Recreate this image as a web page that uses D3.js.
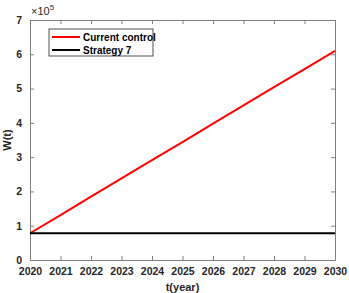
<!DOCTYPE html>
<html>
<head>
<meta charset="utf-8">
<script src="https://cdn.jsdelivr.net/npm/d3@7"></script>
<style>
  body { margin: 0; background: #fff; }
  text { font-family: "Liberation Sans", Arial, sans-serif; font-weight: bold; }
</style>
</head>
<body>
<svg id="chart" width="349" height="293"></svg>
<script>
// Data (W(t) in units of 1e5)
const years = [2020, 2021, 2022, 2023, 2024, 2025, 2026, 2027, 2028, 2029, 2030];
const currentControl = [0.78, 1.31, 1.85, 2.38, 2.91, 3.44, 3.98, 4.51, 5.04, 5.57, 6.1];
const strategy7 = [0.78, 0.78, 0.78, 0.78, 0.78, 0.78, 0.78, 0.78, 0.78, 0.78, 0.78];
const yTicks = [0, 1, 2, 3, 4, 5, 6, 7];
const seriesNames = ["Current control", "Strategy 7"];
const seriesColors = ["#ff0000", "#000000"];

const svg = d3.select("#chart");
const margin = { top: 20, right: 14, bottom: 33, left: 30 };
const width = 349 - margin.left - margin.right;
const height = 293 - margin.top - margin.bottom;

const g = svg.append("g")
    .attr("transform", `translate(${margin.left},${margin.top})`);

// Scales
const x = d3.scaleLinear().domain([2020, 2030]).range([0, width]);
const y = d3.scaleLinear().domain([0, 7]).range([height, 0]);

const axisColor = "#7f7f7f";

// Bottom axis with labels, ticks inward
const xAxis = g.append("g")
    .attr("transform", `translate(0,${height})`)
    .call(d3.axisBottom(x).tickValues(years).tickFormat(d3.format("d")).tickSizeInner(-4).tickSizeOuter(0).tickPadding(8));
// Left axis
const yAxis = g.append("g")
    .call(d3.axisLeft(y).tickValues(yTicks).tickFormat(d3.format("d")).tickSizeInner(-4).tickSizeOuter(0).tickPadding(8));
// Top and right axes (ticks only)
const xTop = g.append("g")
    .call(d3.axisTop(x).tickValues(years).tickSizeInner(-4).tickSizeOuter(0).tickFormat(""));
const yRight = g.append("g")
    .attr("transform", `translate(${width},0)`)
    .call(d3.axisRight(y).tickValues(yTicks).tickSizeInner(-4).tickSizeOuter(0).tickFormat(""));

[xAxis, yAxis, xTop, yRight].forEach(a => {
    a.selectAll("path, line").attr("stroke", axisColor);
    a.selectAll("text").attr("fill", "#262626").style("font-size", "10.5px");
});

// Lines
const line = d3.line()
    .x((d, i) => x(years[i]))
    .y(d => y(d));

[currentControl, strategy7].forEach((s, i) => {
    g.append("path")
        .datum(s)
        .attr("fill", "none")
        .attr("stroke", seriesColors[i])
        .attr("stroke-width", 2)
        .attr("d", line);
});

// Exponent label
const expLabel = g.append("text")
    .attr("x", 1)
    .attr("y", -5)
    .attr("fill", "#262626")
    .style("font-size", "11px")
    .style("font-weight", "normal");
expLabel.append("tspan").text("\u00d710");
expLabel.append("tspan").attr("dy", -5).style("font-size", "8px").text("5");

// Axis titles
g.append("text")
    .attr("x", width / 2)
    .attr("y", height + 31)
    .attr("text-anchor", "middle")
    .attr("fill", "#262626")
    .style("font-size", "11px")
    .text("t(year)");

g.append("text")
    .attr("transform", `translate(-19,${height / 2}) rotate(-90)`)
    .attr("text-anchor", "middle")
    .attr("fill", "#262626")
    .style("font-size", "11px")
    .text("W(t)");

// Legend
const legend = g.append("g").attr("transform", "translate(19,9)");
legend.append("rect")
    .attr("width", 104)
    .attr("height", 27)
    .attr("fill", "#fff")
    .attr("stroke", "#262626")
    .attr("stroke-width", 0.8);

seriesNames.forEach((name, i) => {
    const item = legend.append("g").attr("transform", `translate(0,${8 + i * 13})`);
    item.append("line")
        .attr("x1", 3).attr("x2", 31)
        .attr("y1", 0).attr("y2", 0)
        .attr("stroke", seriesColors[i])
        .attr("stroke-width", 2);
    item.append("text")
        .attr("x", 34)
        .attr("y", 3.5)
        .attr("fill", "#000")
        .style("font-size", "10px")
        .text(name);
});
</script>
</body>
</html>
